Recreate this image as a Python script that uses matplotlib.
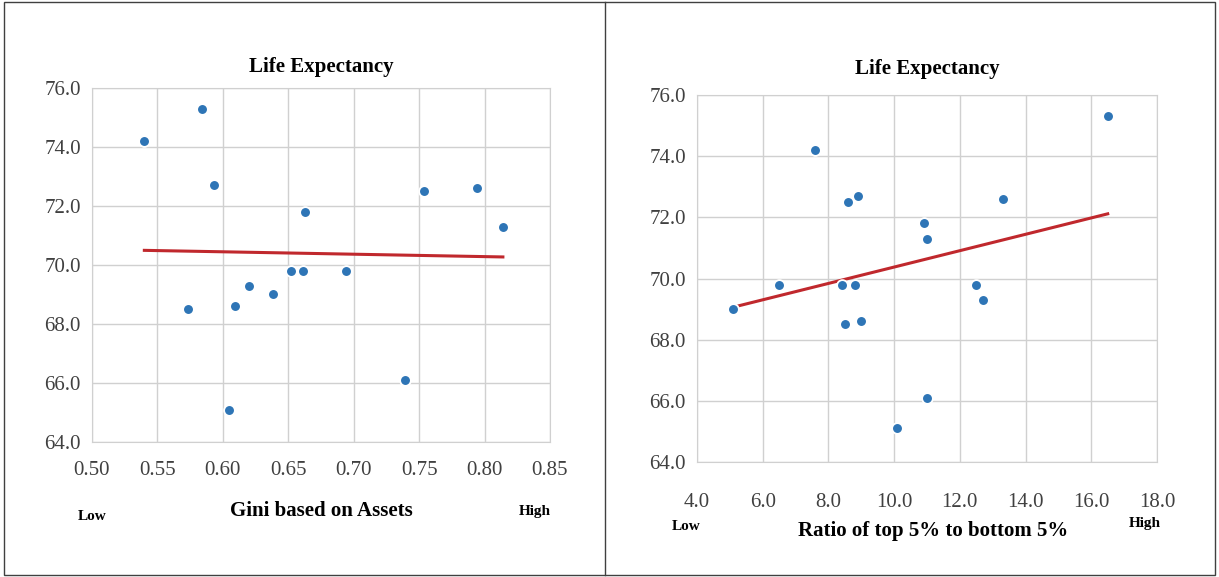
import matplotlib
matplotlib.use("Agg")
import matplotlib.pyplot as plt
import numpy as np

gini = [0.540,0.584,0.593,0.573,0.609,0.605,0.620,0.638,0.652,0.661,0.663,0.694,0.739,0.754,0.794,0.814]
life_l = [74.2,75.3,72.7,68.5,68.6,65.1,69.3,69.0,69.8,69.8,71.8,69.8,66.1,72.5,72.6,71.3]
ratio = [5.1,6.5,7.6,8.4,8.5,8.6,8.8,8.9,9.0,10.1,10.9,11.0,11.0,12.5,12.7,13.3,16.5]
life_r = [69.0,69.8,74.2,69.8,68.5,72.5,69.8,72.7,68.6,65.1,71.8,71.3,66.1,69.8,69.3,72.6,75.3]

plt.rcParams['font.family'] = ['Liberation Serif', 'DejaVu Serif']
fig = plt.figure(figsize=(12.19, 5.77), dpi=100)

fig.add_artist(plt.Rectangle((0.003, 0.003), 0.994, 0.994, transform=fig.transFigure,
                             fill=False, ec='#404040', lw=1))
fig.add_artist(plt.Line2D([605/1219, 605/1219], [0.003, 0.997], transform=fig.transFigure,
                          color='#404040', lw=1))

def panel(rect, x, y, xlim, xticks, fmt, xlabel, titley, xl_pos, low_pos, high_pos, xpad):
    ax = fig.add_axes(rect)
    ax.set_xlim(*xlim); ax.set_ylim(64, 76)
    ax.set_xticks(xticks); ax.set_yticks(np.arange(64, 76.1, 2))
    ax.set_xticklabels([fmt.format(t) for t in xticks])
    ax.set_yticklabels([f"{t:.1f}" for t in np.arange(64, 76.1, 2)])
    ax.grid(True, color='#d0d0d0', lw=1)
    ax.set_axisbelow(True)
    for s in ax.spines.values():
        s.set_color('#d0d0d0')
    ax.tick_params(length=0, labelsize=15, colors='#404040', pad=8)
    ax.tick_params(axis='x', pad=xpad)
    ax.scatter(x, y, s=60, color='#2E75B6', edgecolor='white', linewidth=1.3, zorder=3)
    m, b = np.polyfit(x, y, 1)
    xs = np.array([min(x), max(x)])
    ax.plot(xs, m*xs + b, color='#C0282D', lw=2.2, zorder=2)
    fig.text(rect[0] + rect[2]/2, titley, "Life Expectancy", ha='center', va='center',
             fontsize=15, fontweight='bold')
    fig.text(xl_pos[0]/1219, 1-xl_pos[1]/577, xlabel, ha='center', va='center', fontsize=15, fontweight='bold')
    fig.text(low_pos[0]/1219, 1-low_pos[1]/577, "Low", ha='center', va='center', fontsize=11, fontweight='bold')
    fig.text(high_pos[0]/1219, 1-high_pos[1]/577, "High", ha='center', va='center', fontsize=11, fontweight='bold')
    return ax

panel([92/1219, 1-442/577, 458/1219, 354/577], gini, life_l, (0.5, 0.85),
      np.arange(0.5, 0.851, 0.05), "{:.2f}", "Gini based on Assets", 1-67/577,
      (321, 511), (92, 517), (535, 511), 14)
panel([697/1219, 1-462/577, 460/1219, 367/577], ratio, life_r, (4, 18),
      np.arange(4, 18.1, 2), "{:.1f}", "Ratio of top 5% to bottom 5%", 1-69/577,
      (933, 531), (686, 527), (1145, 524), 22)

fig.savefig("out.png", dpi=100)
